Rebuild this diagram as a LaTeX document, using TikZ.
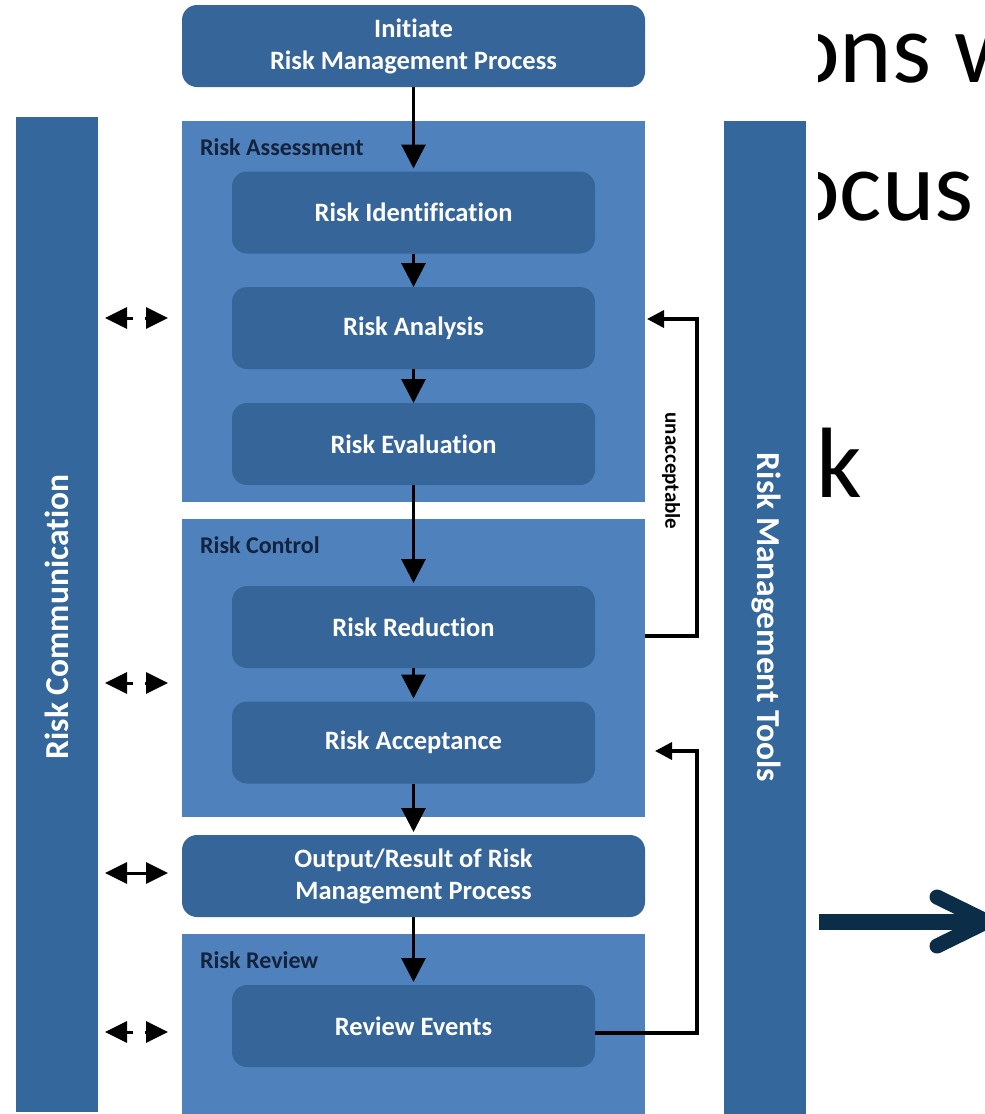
\documentclass[tikz,border=0pt]{standalone}
\usepackage{fontspec}
\setmainfont{Carlito}[Ligatures=NoCommon]
\usetikzlibrary{arrows.meta,calc}
\definecolor{panelblue}{HTML}{4F81BD}
\definecolor{boxblue}{HTML}{36659A}
\definecolor{barblue}{HTML}{34679B}
\definecolor{labelnavy}{HTML}{13233D}
\definecolor{arrownavy}{HTML}{0C2D48}
\begin{document}
\begin{tikzpicture}[x=1pt,y=-1pt,
  panel/.style={fill=panelblue,minimum width=463pt,inner sep=0pt,outer sep=0pt},
  bigbox/.style={fill=boxblue,rounded corners=15pt,minimum width=463pt,minimum height=82pt,inner sep=0pt,outer sep=0pt,text=white,font=\bfseries\fontsize{26.5}{32}\selectfont,align=center},
  subbox/.style={fill=boxblue,rounded corners=15pt,minimum width=363pt,minimum height=82pt,inner sep=0pt,outer sep=0pt,text=white,font=\bfseries\fontsize{26.5}{32}\selectfont},
  bar/.style={fill=barblue,minimum width=82pt,inner sep=0pt,outer sep=0pt},
  bartext/.style={text=white,font=\bfseries\fontsize{33.5}{40}\selectfont,inner sep=0pt},
  seclabel/.style={text=labelnavy,font=\bfseries\fontsize{24}{29}\selectfont,anchor=west,inner sep=0pt},
  flow/.style={-{Triangle[width=24pt,length=24pt]},line width=3pt,black},
  fb/.style={-{Triangle[width=17pt,length=17pt]},line width=3.5pt,black},
  comm/.style={-{Triangle[width=21pt,length=22pt]},line width=3pt,black},
  commboth/.style={{Triangle[width=21pt,length=22pt]}-{Triangle[width=21pt,length=22pt]},line width=3pt,black},
  slide/.style={font=\fontsize{100}{120}\selectfont,anchor=base west,inner sep=0pt,text=black}
]
\fill[white] (0,0) rectangle (985,1114);
\useasboundingbox (0,0) rectangle (985,1114);

% slide text behind the diagram
\begin{scope}
\clip (818,0) rectangle (985,1114);
\node[slide] (t1) at (787,82) {ons w};
\node[slide] (t2) at (787,220) {ocus};
\end{scope}
\node[slide] (t3) at (816,497) {k};

% slide arrow
\coordinate (sa1) at (819,921.5);
\coordinate (sa2) at (978,921.5);
\coordinate (sc1) at (937,897);
\coordinate (sc2) at (987,921.5);
\coordinate (sc3) at (937,946);
\draw[arrownavy,line width=16pt] (sa1) -- (sa2);
\draw[arrownavy,line width=15pt,line cap=round,line join=round] (sc1) -- (sc2) -- (sc3);

% side bars
\node[bar,minimum height=995pt] (lbar) at (57,614.5) {};
\node[bartext,rotate=90] (lbtext) at (57,617) {Risk Communication};
\node[bar,minimum height=993pt] (rbar) at (765,617.5) {};
\node[bartext,rotate=-90] (rbtext) at (766,617.5) {Risk Management Tools};

% panels
\node[panel,minimum height=381pt] (pRA) at (413.5,311.5) {};
\node[panel,minimum height=298pt] (pRC) at (413.5,668) {};
\node[panel,minimum height=182pt] (pRR) at (413.5,1025) {};

\node[seclabel] (lRA) at (200,147) {Risk Assessment};
\node[seclabel] (lRC) at (200,545) {Risk Control};
\node[seclabel] (lRR) at (200,960) {Risk Review};

% boxes
\node[bigbox] (init) at (413.5,46) {Initiate\\Risk Management Process};
\node[subbox] (ri) at (413.5,212.5) {Risk Identification};
\node[subbox] (ran) at (413.5,328) {Risk Analysis};
\node[subbox] (rev) at (413.5,444) {Risk Evaluation};
\node[subbox] (rred) at (413.5,627) {Risk Reduction};
\node[subbox] (racc) at (413.5,742.5) {Risk Acceptance};
\node[bigbox] (out) at (413.5,876) {Output/Result of Risk\\Management Process};
\node[subbox] (reve) at (413.5,1026) {Review Events};

% flow arrows
\draw[flow,shorten >=3pt] (init.south) -- (ri.north);
\draw[flow] (ri.south) -- (ran.north);
\draw[flow] (ran.south) -- (rev.north);
\draw[flow,shorten >=3pt] (rev.south) -- (rred.north);
\draw[flow,shorten >=3pt] (rred.south) -- (racc.north);
\draw[flow,shorten >=3pt] (racc.south) -- (out.north);
\draw[flow,shorten >=3pt] (out.south) -- (reve.north);

% feedback loops
\coordinate (u1) at (645,636);
\coordinate (ucor) at (697,319);
\coordinate (u3) at (647,319);
\draw[fb] (u1) -| (ucor) -- (u3);
\node[rotate=-90,font=\bfseries\fontsize{21}{25}\selectfont,inner sep=0pt] (unacc) at (671,471) {unacceptable};

\coordinate (rcor) at (697,751);
\coordinate (r3) at (655,751);
\draw[fb] ([yshift=-7pt]reve.east) -| (rcor) -- (r3);

% communication arrows
\foreach \yy/\nm in {318/a,683/b,1032/d}{
  \coordinate (cl\nm) at (133,\yy);
  \coordinate (cle\nm) at (105,\yy);
  \coordinate (cr\nm) at (145,\yy);
  \coordinate (cre\nm) at (168,\yy);
  \draw[comm] (cl\nm) -- (cle\nm);
  \draw[comm] (cr\nm) -- (cre\nm);
}
\coordinate (cc1) at (105,873);
\coordinate (cc2) at (168,873);
\draw[commboth] (cc1) -- (cc2);
\end{tikzpicture}
\end{document}
